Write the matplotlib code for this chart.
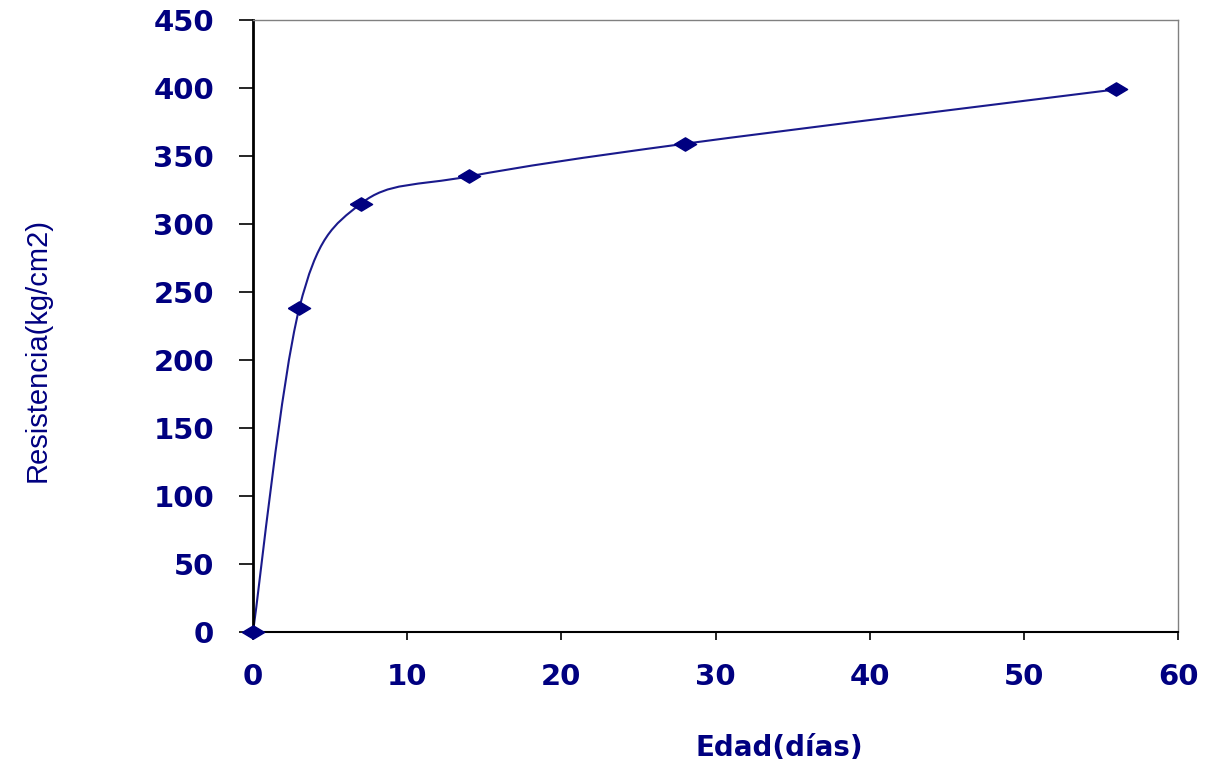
import matplotlib
matplotlib.use("Agg")
import matplotlib.pyplot as plt
from matplotlib.path import Path
from matplotlib.patches import PathPatch
from matplotlib import font_manager

# datos
edad = [0, 3, 7, 14, 28, 56]
resistencia = [0, 238, 315, 335, 359, 399]
xticks = [0, 10, 20, 30, 40, 50, 60]
yticks = [0, 50, 100, 150, 200, 250, 300, 350, 400, 450]

azul = '#000080'

names = {f.name for f in font_manager.fontManager.ttflist}
narrow = 'Liberation Sans Narrow' if 'Liberation Sans Narrow' in names else 'Liberation Sans'

fig = plt.figure(figsize=(12.08, 7.68), dpi=100)
ax = fig.add_axes([253/1208, 1-632/768, (1178-253)/1208, (632-20)/768])

# linea suavizada tipo Excel (bezier catmull-rom)
n = len(edad)
verts = [(edad[0], resistencia[0])]
codes = [Path.MOVETO]
for i in range(n-1):
    i0 = max(i-1, 0)
    i3 = min(i+2, n-1)
    c1 = (edad[i] + (edad[i+1]-edad[i0])/6, resistencia[i] + (resistencia[i+1]-resistencia[i0])/6)
    c2 = (edad[i+1] - (edad[i3]-edad[i])/6, resistencia[i+1] - (resistencia[i3]-resistencia[i])/6)
    verts += [c1, c2, (edad[i+1], resistencia[i+1])]
    codes += [Path.CURVE4]*3
ax.add_patch(PathPatch(Path(verts, codes), facecolor='none', edgecolor='#1a1a8c', lw=1.5, zorder=2))

diamante = [(-1, 0), (0, 0.6), (1, 0), (0, -0.6), (-1, 0)]
ax.plot(edad, resistencia, linestyle='none', marker=diamante, markersize=16,
        color=azul, clip_on=False, zorder=3)

ax.set_xlim(0, 60)
ax.set_ylim(0, 450)
ax.set_xticks(xticks)
ax.set_yticks(yticks)

for lab in ax.get_xticklabels() + ax.get_yticklabels():
    lab.set_fontfamily('DejaVu Sans')
    lab.set_fontweight('bold')
    lab.set_fontsize(21)
    lab.set_color(azul)

ax.tick_params(axis='y', direction='out', length=10, width=1.2, pad=18, color='black')
ax.tick_params(axis='x', direction='out', length=6, width=1.2, pad=16, color='black')

ax.spines['left'].set_linewidth(2)
ax.spines['left'].set_color('black')
ax.spines['bottom'].set_linewidth(1.5)
ax.spines['bottom'].set_color('black')
ax.spines['top'].set_color('#808080')
ax.spines['right'].set_color('#808080')
ax.spines['top'].set_linewidth(1)
ax.spines['right'].set_linewidth(1)

fig.text(38/1208, 1-350/768, 'Resistencia(kg/cm2)', rotation=90, ha='center', va='center',
         family=narrow, fontsize=21, color=azul)
fig.text(779/1208, 1-748/768, 'Edad(días)', ha='center', va='center',
         family='DejaVu Sans', fontweight='bold', fontsize=20, color=azul)

fig.savefig('out.png', dpi=100)
